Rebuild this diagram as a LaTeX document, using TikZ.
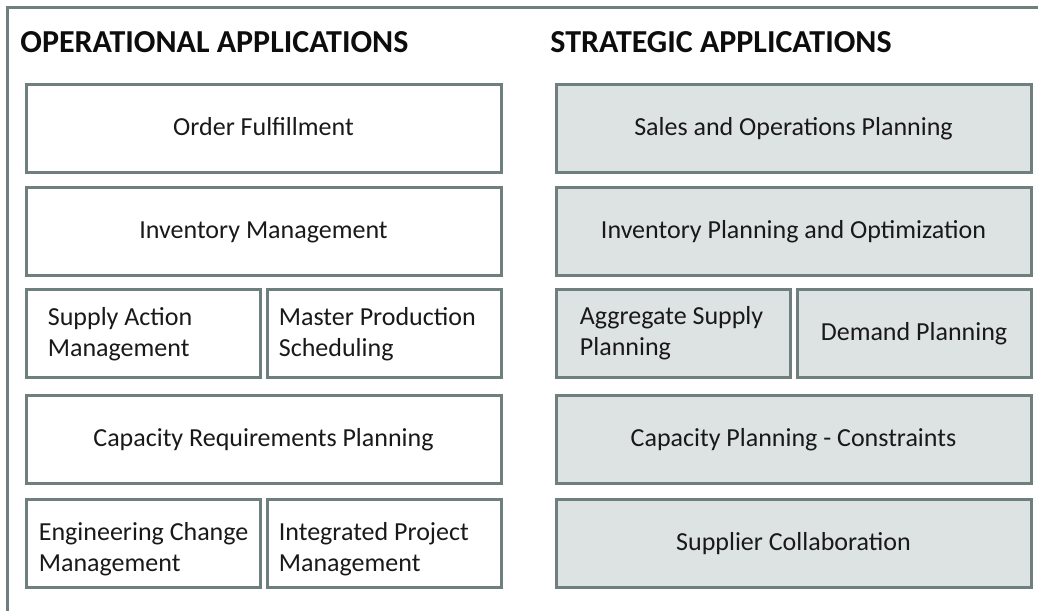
\documentclass[tikz,border=0pt]{standalone}
\usepackage{fontspec}
\setmainfont{Carlito}
\usepackage{xcolor}
\usetikzlibrary{positioning}

\definecolor{framegray}{RGB}{110,127,126}
\definecolor{stratfill}{RGB}{221,227,227}

\begin{document}
\begin{tikzpicture}[x=0.5pt,y=-0.5pt,
  appbox/.style={draw=framegray,line width=1.5pt,inner sep=0pt,minimum height=44pt,
    text height=10pt,text depth=3pt,font=\fontsize{13}{15.5}\selectfont,text=black!90},
  wide/.style={appbox,minimum width=237.5pt},
  half/.style={appbox,minimum width=117pt},
  boxtext/.style={inner sep=0pt,align=left,text=black!90,
    font=\fontsize{13}{15.5}\selectfont},
  strat/.style={fill=stratfill},
  heading/.style={anchor=base west,inner sep=0pt,text=black!95,
    font=\fontsize{16}{18}\selectfont\bfseries}]
\useasboundingbox (0,0) rectangle (1038,610);
% open frame, only top and left edges show
\draw[framegray,line width=1.5pt] (7,615) |- (1045,8);

\node[heading] (ophead) at (20,53) {OPERATIONAL APPLICATIONS};
\node[heading] (sthead) at (550,53) {STRATEGIC APPLICATIONS};

% operational column
\node[wide] (order) at (263.5,128.5) {Order Fulfillment};
\node[wide] (invmgmt) at (263.5,231.5) {Inventory Management};
\node[half] (supply) at (143,333.5) {};
\node[boxtext,right=11.5pt of supply.west,yshift=-0.5pt] (supplytxt) {Supply Action\\Management};
\node[half] (mps) at (384,333.5) {};
\node[boxtext,right=6.5pt of mps.west,yshift=-0.5pt] (mpstxt) {Master Production\\Scheduling};
\node[wide] (crp) at (263.5,439) {Capacity Requirements Planning};
\node[half] (ecm) at (143,543) {};
\node[boxtext,right=7pt of ecm.west,yshift=-3pt] (ecmtxt) {Engineering Change\\Management};
\node[half] (ipm) at (384,543) {};
\node[boxtext,right=6.5pt of ipm.west,yshift=-3pt] (ipmtxt) {Integrated Project\\Management};

% strategic column
\node[wide,strat] (sop) at (793.5,128.5) {Sales and Operations Planning};
\node[wide,strat] (invplan) at (793.5,231.5) {Inventory Planning and Optimization};
\node[half,strat] (aggsup) at (673,333.5) {};
\node[boxtext,right=12.5pt of aggsup.west] (aggsuptxt) {Aggregate Supply\\Planning};
\node[half,strat] (demand) at (914,333.5) {Demand Planning};
\node[wide,strat] (capcon) at (793.5,439) {Capacity Planning - Constraints};
\node[wide,strat] (supcol) at (793.5,543) {Supplier Collaboration};
\end{tikzpicture}
\end{document}
